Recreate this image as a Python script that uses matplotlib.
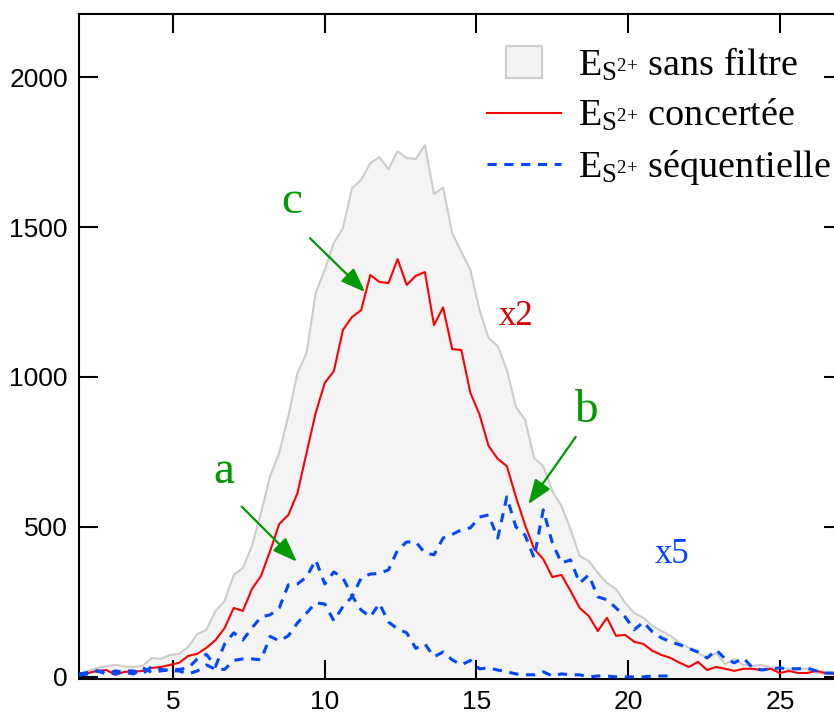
import numpy as np
import matplotlib
matplotlib.use("Agg")
import matplotlib.pyplot as plt
import matplotlib.patches as mpatches
from matplotlib.lines import Line2D
from matplotlib.legend_handler import HandlerPatch

# energy grid (0.3 steps)
energy = np.round(1.9 + 0.3 * np.arange(85), 2)

# E_S2+ without filter
sans_filtre = [5, 20, 30, 35, 40, 35, 33, 37, 63, 60,
               73, 77, 100, 143, 157, 220, 253, 340, 363, 437,
               547, 670, 747, 870, 1013, 1080, 1280, 1357, 1447, 1497,
               1630, 1657, 1713, 1733, 1693, 1753, 1730, 1727, 1773, 1610,
               1632, 1480, 1417, 1357, 1223, 1130, 1103, 1023, 900, 858,
               730, 703, 620, 570, 493, 403, 387, 347, 313, 293,
               247, 213, 197, 170, 153, 137, 113, 97, 80, 63,
               80, 43, 60, 40, 37, 40, 30, 30, 27, 27,
               27, 13, 12, 10, 10]

# concerted (x2)
concertee = [5, 13, 20, 23, 7, 17, 17, 20, 30, 33,
             40, 47, 70, 77, 97, 123, 163, 230, 220, 293,
             337, 420, 510, 540, 613, 747, 880, 980, 1020, 1157,
             1200, 1223, 1340, 1317, 1313, 1393, 1307, 1337, 1350, 1173,
             1232, 1093, 1090, 947, 875, 770, 727, 703, 600, 507,
             427, 393, 333, 340, 287, 230, 203, 153, 197, 137,
             140, 117, 110, 87, 73, 63, 47, 33, 50, 23,
             33, 27, 20, 27, 27, 23, 27, 13, 20, 13,
             13, 20, 13, 10, 8]

# sequential (x5), curve a
sequentielle_a = [10, 15, 20, 10, 20, 15, 10, 30, 15, 20,
                  25, 25, 30, 60, 75, 35, 110, 147, 123, 163,
                  200, 207, 230, 307, 310, 333, 390, 310, 350, 330,
                  270, 223, 200, 245, 183, 160, 147, 95, 110, 67,
                  83, 57, 40, 55, 27, 30, 23, 17, 10, 7,
                  7, 17, 3, 10, 7, 7, 0, 3, 3, 0,
                  0, 0, 0, 3, 3, 3]

# sequential (x5), curve b
sequentielle_b = [5, 10, 20, 15, 10, 20, 20, 10, 35, 25,
                  20, 20, 10, 20, 40, 25, 25, 55, 60, 60,
                  57, 135, 120, 137, 180, 213, 247, 243, 187, 235,
                  267, 330, 343, 345, 357, 423, 450, 450, 413, 407,
                  463, 475, 490, 497, 533, 540, 463, 600, 500, 473,
                  397, 557, 447, 380, 390, 313, 340, 267, 257, 230,
                  200, 157, 183, 150, 130, 117, 107, 95, 83, 63,
                  90, 60, 47, 63, 30, 23, 27, 30, 27, 27,
                  30, 20, 13, 13, 10]

green = "#009900"
blue = "#0048ff"
red = "#ff0000"

plt.rcParams["mathtext.fontset"] = "custom"
plt.rcParams["mathtext.rm"] = "Liberation Serif"

fig = plt.figure(figsize=(8.34, 7.13), dpi=100)
ax = fig.add_axes([79 / 834, 34 / 713, (843 - 79) / 834, (679 - 13.5) / 713])

ax.fill_between(energy, 0, sans_filtre, facecolor="#f4f4f4", edgecolor="none", zorder=1)
ax.plot(energy, sans_filtre, color="#cccccc", lw=1.5, zorder=2)
ax.plot(energy, concertee, color=red, lw=1.5, zorder=3)
ax.plot(energy[:len(sequentielle_a)], sequentielle_a, color=blue, lw=2.2,
        dashes=(3, 2.5), zorder=4)
ax.plot(energy, sequentielle_b, color=blue, lw=2.2, dashes=(3, 2.5), zorder=4)

ax.set_xlim(1.9, 27.08)
ax.set_ylim(-7, 2212)
ax.set_xticks([5, 10, 15, 20, 25])
ax.set_yticks([0, 500, 1000, 1500, 2000])
ax.tick_params(direction="in", length=13.5, width=1.5, top=True, right=True,
               labelsize=19, pad=8)
for lab in ax.get_xticklabels() + ax.get_yticklabels():
    lab.set_family("Liberation Sans")
for sp in ax.spines.values():
    sp.set_linewidth(1.5)

# annotations
arrow = dict(arrowstyle="-|>,head_length=0.75,head_width=0.28", color=green,
             lw=1.6, mutation_scale=20, shrinkA=0, shrinkB=0)
serif = "Liberation Serif"
ax.annotate("", xy=(11.33, 1283), xytext=(9.51, 1463), arrowprops=arrow)
ax.text(8.91, 1547, "c", color=green, fontsize=34, family=serif, ha="center", va="baseline")
ax.annotate("", xy=(9.08, 384), xytext=(7.26, 568), arrowprops=arrow)
ax.text(6.66, 647, "a", color=green, fontsize=34, family=serif, ha="center", va="baseline")
ax.annotate("", xy=(16.71, 576), xytext=(18.27, 800), arrowprops=arrow)
ax.text(18.6, 851, "b", color=green, fontsize=34, family=serif, ha="center", va="baseline")
ax.text(16.3, 1173, "x2", color="#e00000", fontsize=25, family=serif, ha="center", va="baseline")
ax.text(21.45, 379, "x5", color=blue, fontsize=25, family=serif, ha="center", va="baseline")


def small_box(legend, orig_handle, xdescent, ydescent, width, height, fontsize):
    w = width * 0.48
    return mpatches.Rectangle((-xdescent + (width - w) / 2, -ydescent - 0.1 * height),
                              w, height * 1.2)


es = r"$\mathregular{E_{S^{2{+}}}}$"
handles = [mpatches.Patch(facecolor="#f2f2f2", edgecolor="#cccccc", lw=1.5),
           Line2D([], [], color=red, lw=1.5),
           Line2D([], [], color=blue, lw=2.2, dashes=(3, 2.5))]
labels = [es + " sans filtre", es + " concertée", es + " séquentielle"]
leg = ax.legend(handles, labels, loc="upper left", bbox_to_anchor=(487 / 834, 1 - 46 / 713),
                bbox_transform=fig.transFigure, frameon=False, borderpad=0,
                borderaxespad=0, handlelength=1.93, handletextpad=0.45,
                labelspacing=0.37, prop={"family": serif, "size": 27.5},
                handler_map={mpatches.Patch: HandlerPatch(patch_func=small_box)})

fig.savefig("out.png", dpi=100)
